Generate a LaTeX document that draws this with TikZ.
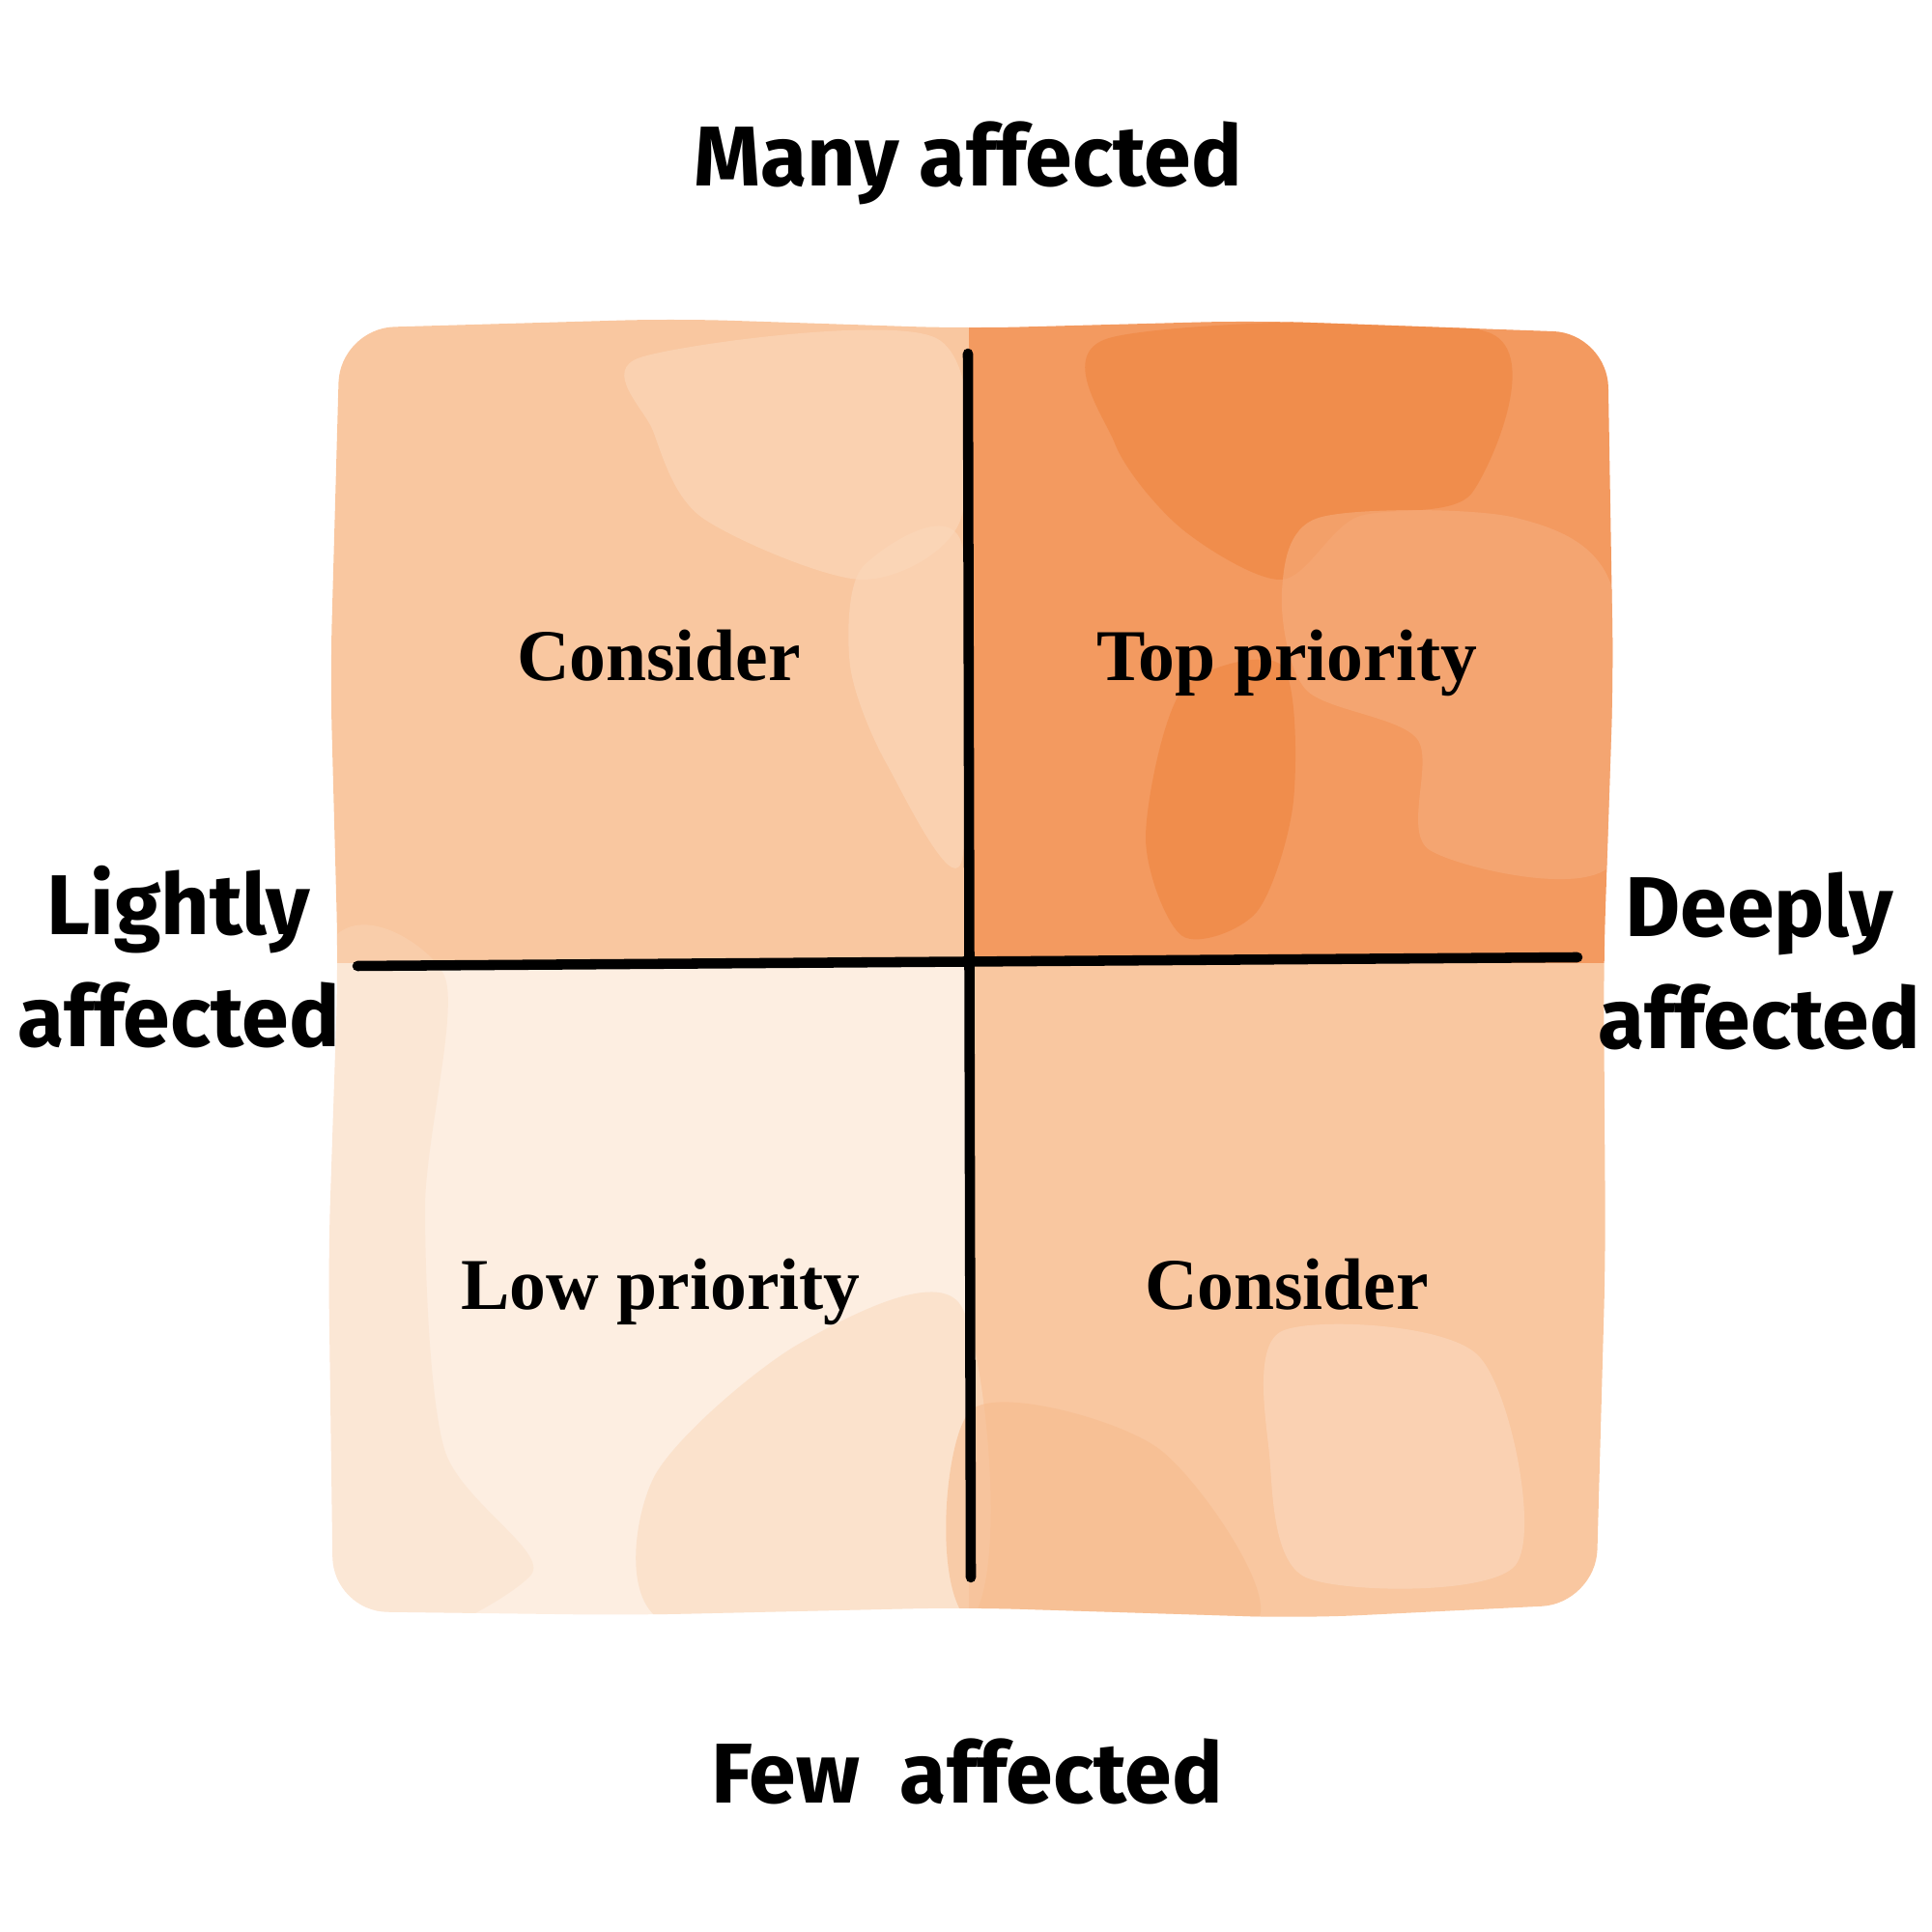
\documentclass[tikz,border=0pt]{standalone}
\usepackage{fontspec}
\usepackage{tikz}
\usetikzlibrary{positioning}
\newfontfamily\handfont{Fira Sans}
\newfontfamily\quadfont{Liberation Serif}

\definecolor{tlwash}{HTML}{F9C7A0}
\definecolor{tlpale}{HTML}{FBD8BB}
\definecolor{trwash}{HTML}{F39A60}
\definecolor{trdeep}{HTML}{F08A48}
\definecolor{trpale}{HTML}{F6AD7D}
\definecolor{blwash}{HTML}{FDEEE1}
\definecolor{blmid}{HTML}{FADABF}
\definecolor{brwash}{HTML}{F9C7A0}
\definecolor{brpale}{HTML}{FBD9BF}
\definecolor{brdeep}{HTML}{F7BC8F}

\tikzset{
  axislabel/.style={font=\handfont\bfseries\fontsize{25}{33}\selectfont, align=center, inner sep=0pt},
  quadlabel/.style={font=\quadfont\bfseries\fontsize{21.5}{26}\selectfont, inner sep=0pt, anchor=base},
  axisline/.style={line width=3pt, line cap=round, black},
  wash/.style={fill=#1, fill opacity=0.6, draw=none}
}

\begin{document}
\begin{tikzpicture}
\useasboundingbox (0,0) rectangle (20,20);

% Watercolour squares
\begin{scope}
\clip[rounded corners=16pt] (3.45,3.32) -- (6.5,3.28) -- (10,3.36) -- (13.5,3.25) -- (16.52,3.4)
  -- (16.62,7) -- (16.6,10) -- (16.7,13) -- (16.64,16.55) -- (13,16.68) -- (10,16.6)
  -- (7,16.7) -- (3.52,16.6) -- (3.42,13) -- (3.5,10) -- (3.4,7) -- cycle;
\fill[tlwash] (3,10.03) rectangle (10.03,17);
\fill[trwash] (10.03,10.03) rectangle (17,17);
\fill[blwash] (3,3) rectangle (10.03,10.03);
\fill[brwash] (10.03,3) rectangle (17,10.03);

% patches, top left
\fill[wash=tlpale] plot[smooth cycle] coordinates {(6.63,16.3) (9.69,16.5) (9.95,14.64) (8.93,14.0) (7.27,14.64) (6.76,15.54)};
\fill[wash=tlpale] plot[smooth cycle] coordinates {(8.93,14.13) (9.95,14.39) (9.95,11.07) (9.18,12.09) (8.8,13.11)};

% patches, top right
\fill[wash=trdeep, fill opacity=0.8] plot[smooth cycle] coordinates {(11.48,16.5) (15.43,16.55) (15.24,14.9) (14.03,14.64) (13.27,14.0) (12.24,14.52) (11.54,15.41)};
\fill[wash=trpale] plot[smooth cycle] coordinates {(13.65,14.64) (15.69,14.64) (16.7,13.88) (16.7,11.07) (14.8,11.2) (14.67,12.35) (13.52,12.86) (13.27,13.88)};
\fill[wash=trdeep, fill opacity=0.8] plot[smooth cycle] coordinates {(12.24,12.86) (13.27,13.11) (13.39,11.71) (13.01,10.56) (12.24,10.31) (11.86,11.33)};

% patches, bottom left
\fill[wash=blmid] plot[smooth cycle] coordinates {(6.76,4.69) (8.29,6.1) (9.95,6.48) (10.03,3.2) (6.89,3.2)};
\fill[wash=blmid, fill opacity=0.35] plot[smooth cycle] coordinates {(3.3,9.95) (4.6,9.9) (4.4,7.5) (4.6,5.0) (5.5,3.7) (3.3,3.3)};

% patches, bottom right
\fill[wash=brdeep] plot[smooth cycle] coordinates {(10.05,5.4) (12.0,5.0) (13.0,3.2) (10.05,3.2)};
\fill[wash=brpale] plot[smooth cycle] coordinates {(13.27,6.22) (15.3,5.97) (15.69,3.8) (13.52,3.67) (13.14,4.95)};
\end{scope}

% Axes
\coordinate (vtop) at (10.02,16.34);
\coordinate (vbot) at (10.05,3.67);
\coordinate (hleft) at (3.70,10.00);
\coordinate (hright) at (16.33,10.09);
\draw[axisline] (vtop) -- (vbot);
\draw[axisline] (hleft) -- (hright);

% Quadrant labels
\node[quadlabel] (considertl) at (6.82,12.95) {Consider};
\node[quadlabel] (toppri) at (13.32,12.95) {Top priority};
\node[quadlabel] (lowpri) at (6.84,6.44) {Low priority};
\node[quadlabel] (considerbr) at (13.32,6.44) {Consider};

% Axis labels
\node[axislabel, anchor=base] (many) at (10.02,18.07) {Many affected};
\node[axislabel, anchor=base] (few) at (10.01,1.33) {Few~~affected};
\node[axislabel] (lightly) at (1.85,10.09) {Lightly\\affected};
\node[axislabel] (deeply) at (18.21,10.05) {Deeply\\affected};

\end{tikzpicture}
\end{document}
